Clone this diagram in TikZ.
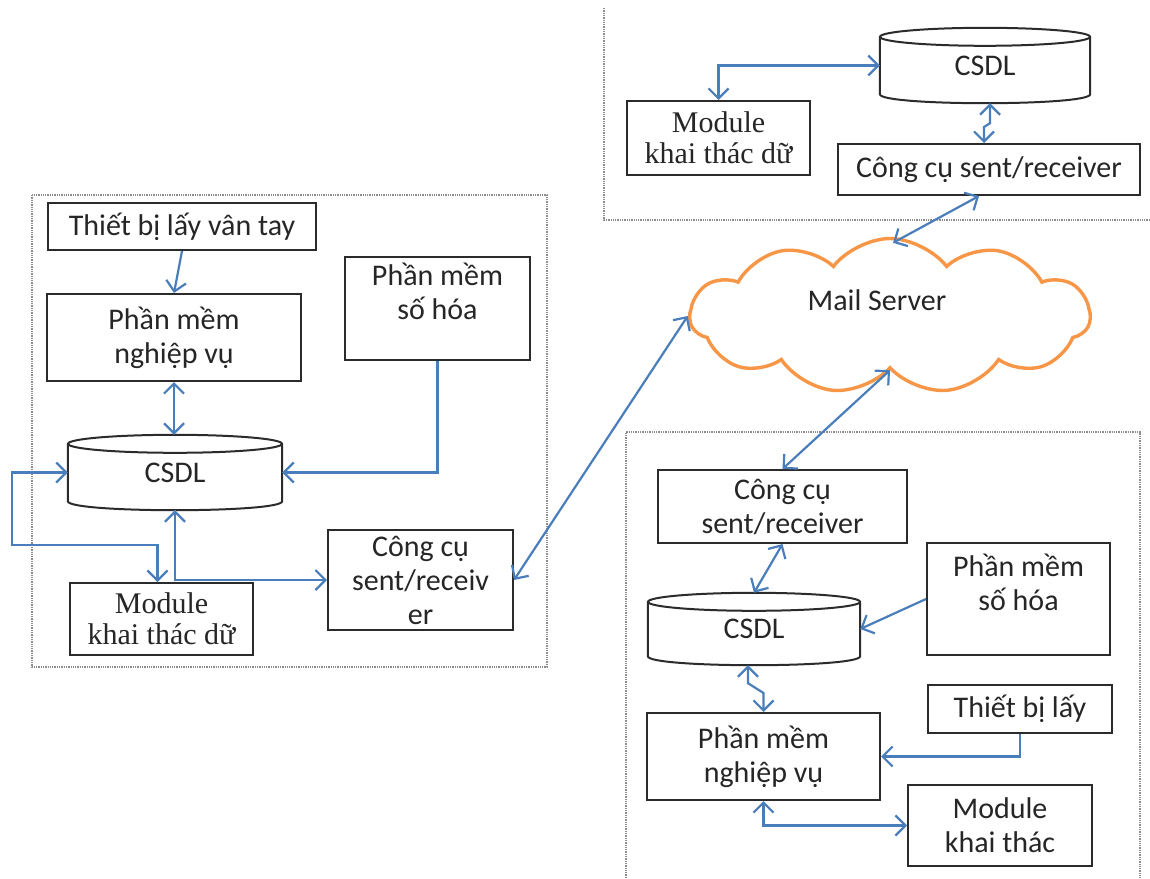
\documentclass[tikz,border=0pt]{standalone}
\usepackage{fontspec}
\setmainfont{Carlito}
\newfontfamily\timesf{Liberation Serif}
\usetikzlibrary{arrows.meta,shapes.symbols,calc}
\definecolor{arrowblue}{HTML}{4A7EBB}
\definecolor{cloudorange}{HTML}{F79646}
\definecolor{boxgray}{HTML}{2B2B2B}
\definecolor{framegray}{HTML}{8C8C8C}
\newcommand\dbshape[2]{%
  \draw[boxline] ([yshift=-9pt]#1.north west) -- ([yshift=9pt]#1.south west)
    .. controls +(0,-12pt) and +(0,-12pt) .. ([yshift=9pt]#1.south east)
    -- ([yshift=-9pt]#1.north east);
  \draw[boxline] ([yshift=-9pt]#1.north) ellipse [x radius=#2pt, y radius=9pt];
}
\tikzset{
  boxline/.style={draw=boxgray, line width=2pt},
  txt/.style={align=center, inner sep=0pt, text=black!85, font=\fontsize{30}{34}\selectfont},
  box/.style={boxline, fill=white, txt},
  serif/.style={font=\timesf\fontsize{30}{31}\selectfont},
  dbnode/.style={txt},
  tip/.tip={Straight Barb[length=10pt,width=20pt]},
  conn/.style={draw=arrowblue, line width=2.2pt, -tip},
  dconn/.style={draw=arrowblue, line width=2.2pt, tip-tip},
  frame/.style={draw=framegray, line width=1.3pt, densely dotted},
}
\begin{document}
\begin{tikzpicture}[x=1pt,y=-1pt]
\useasboundingbox (0,0) rectangle (1150,878);
% frames
\draw[frame] (32,195) rectangle (547,667);
\draw[frame] (604,8) -- (604,220) -- (1150,220);
\draw[frame] (626,878) -- (626,432) -- (1140,432) -- (1140,878);
% cloud
\node[cloud, cloud puffs=11, cloud puff arc=105, aspect=2.5, draw=cloudorange,
      line width=3.4pt, minimum width=400pt, minimum height=155pt, inner sep=0pt] (cloud) at (890,316) {};
\node[txt] (mailtxt) at (877,300) {Mail Server};
% left group
\node[box, minimum width=268pt, minimum height=47pt] (tb1) at (182,226.5) {Thiết bị lấy vân tay};
\node[box, minimum width=254pt, minimum height=87pt] (pmnv1) at (174,337.5) {Phần mềm\\nghiệp vụ};
\node[box, minimum width=185pt, minimum height=103pt] (pmsh1) at (437.5,308.5) {Phần mềm\\số hóa\\\mbox{}};
\node[dbnode, minimum width=214pt, minimum height=75pt] (db1) at (175,472.5) {CSDL};
\dbshape{db1}{107}
\node[box, serif, minimum width=183pt, minimum height=72pt] (mod1) at (161.5,619) {Module\\khai thác dữ};
\node[box, minimum width=185pt, minimum height=100pt] (cc1) at (420.5,580) {Công cụ\\sent/receiv\\er};
% top-right group
\node[dbnode, minimum width=210pt, minimum height=75pt] (db2) at (985,65.5) {CSDL};
\dbshape{db2}{105}
\node[box, serif, minimum width=183pt, minimum height=74pt] (mod2) at (718.5,138) {Module\\khai thác dữ};
\node[box, minimum width=302pt, minimum height=51pt] (cc2) at (989,169.5) {Công cụ sent/receiver};
% bottom-right group
\node[box, minimum width=249pt, minimum height=73pt] (cc3) at (782.5,506.5) {Công cụ\\sent/receiver};
\node[box, minimum width=183pt, minimum height=112pt] (pmsh3) at (1018.5,599) {Phần mềm\\số hóa\\\mbox{}};
\node[dbnode, minimum width=212pt, minimum height=72pt] (db3) at (754,629) {CSDL};
\dbshape{db3}{106}
\node[box, minimum width=184pt, minimum height=48pt] (tb3) at (1020,709) {Thiết bị lấy};
\node[box, minimum width=233pt, minimum height=87pt] (pmnv3) at (763.5,756.5) {Phần mềm\\nghiệp vụ};
\node[box, minimum width=184pt, minimum height=81pt] (mod3) at (1000,825.5) {Module\\khai thác};
% connectors left
\coordinate (loopc) at (12,545);
\draw[conn] (tb1.south) -- (pmnv1.north);
\draw[dconn] (pmnv1.south) -- (pmnv1.south |- db1.north);
\draw[conn] (pmsh1.south) |- (db1.east);
\draw[dconn] (db1.west) -| (loopc) -| ([xshift=-4pt]mod1.north);
\draw[conn] (db1.south) -- (db1.south |- cc1.west) -- (cc1.west);
\draw[draw=arrowblue, line width=2.2pt, tip-] (db1.south) -- ++(0,20);
% top-right connectors
\draw[dconn] (mod2.north) |- (db2.west);
\draw[dconn] ([xshift=5pt]db2.south) -- ++(0,20) -- ($([xshift=-5pt]cc2.north)+(0,-16)$) -- ([xshift=-5pt]cc2.north);
% cloud connectors
\draw[dconn] ([xshift=3pt,yshift=-6pt]cloud.north) -- ([xshift=-10pt]cc2.south);
\draw[dconn] (cloud.west) -- (cc1.east);
\draw[dconn] (cloud.south) -- (cc3.north);
% bottom-right connectors
\draw[dconn] (cc3.south) -- (db3.north);
\draw[conn] (pmsh3.west) -- (db3.east);
\draw[dconn] ([xshift=-6pt]db3.south) -- ++(0,18) -- ($(pmnv3.north)+(0,-19)$) -- (pmnv3.north);
\draw[conn] (tb3.south) |- (pmnv3.east);
\draw[dconn] (pmnv3.south) |- (mod3.west);
\end{tikzpicture}
\end{document}
